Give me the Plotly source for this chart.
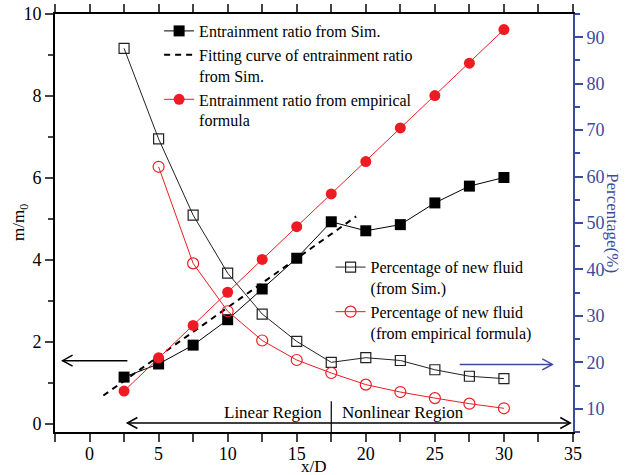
import plotly.graph_objects as go

# ---- data ----
x_vals = [2.5, 5, 7.5, 10, 12.5, 15, 17.5, 20, 22.5, 25, 27.5, 30]
ratio_sim = [1.14, 1.46, 1.92, 2.54, 3.29, 4.04, 4.93, 4.71, 4.86, 5.39, 5.80, 6.01]
ratio_emp = [0.80, 1.61, 2.40, 3.21, 4.01, 4.81, 5.61, 6.40, 7.22, 8.01, 8.80, 9.62]
fit_x = [1.0, 19.3]
fit_y = [0.69, 5.06]
pct_sim = [87.6, 68.1, 51.7, 39.2, 30.4, 24.5, 20.0, 21.0, 20.4, 18.4, 17.0, 16.5]
x_pct_emp = [5, 7.5, 10, 12.5, 15, 17.5, 20, 22.5, 25, 27.5, 30]
pct_emp = [62.1, 41.3, 31.0, 24.7, 20.5, 17.7, 15.2, 13.6, 12.3, 11.1, 10.1]

RED = "#ED1C24"
BLUE = "#3B4BA0"
FONT = "Liberation Serif, Times New Roman, DejaVu Serif, serif"

fig = go.Figure()
fig.add_trace(go.Scatter(x=x_vals, y=ratio_sim, mode="lines+markers",
                         name="Entrainment ratio from Sim.",
                         line=dict(color="black", width=1),
                         marker=dict(symbol="square", size=11, color="black")))
fig.add_trace(go.Scatter(x=fit_x, y=fit_y, mode="lines",
                         name="Fitting curve of entrainment ratio<br>from Sim.",
                         line=dict(color="black", width=2, dash="6px,5px")))
fig.add_trace(go.Scatter(x=x_vals, y=ratio_emp, mode="lines+markers",
                         name="Entrainment ratio from empirical<br>formula",
                         line=dict(color=RED, width=1),
                         marker=dict(symbol="circle", size=11, color=RED)))
fig.add_trace(go.Scatter(x=x_vals, y=pct_sim, mode="lines+markers", yaxis="y2",
                         name="Percentage of new fluid<br>(from Sim.)", legend="legend2",
                         line=dict(color="#222", width=1),
                         marker=dict(symbol="square-open", size=10, color="#222",
                                     line=dict(width=1.2))))
fig.add_trace(go.Scatter(x=x_pct_emp, y=pct_emp, mode="lines+markers", yaxis="y2",
                         name="Percentage of new fluid<br>(from empirical formula)", legend="legend2",
                         line=dict(color=RED, width=1),
                         marker=dict(symbol="circle-open", size=11, color=RED,
                                     line=dict(width=1.2))))

# ---- arrows (annotation decorations) ----
PX_X = 13.85  # px per x unit
PX_Y = 41.0   # px per left-y unit
shapes = []

def arrow_head(tx, ty, direction, color):
    dx = 10 / PX_X * (-direction)
    dy = 5.5 / PX_Y
    return dict(type="path", xref="x", yref="y",
                path=f"M {tx+dx},{ty+dy} L {tx},{ty} L {tx+dx},{ty-dy}",
                line=dict(color=color, width=1.5))

shapes.append(dict(type="line", xref="x", yref="y", x0=2.74, x1=-1.95, y0=1.54, y1=1.54,
                   line=dict(color="black", width=1.5)))
shapes.append(arrow_head(-1.95, 1.54, -1, "black"))
shapes.append(dict(type="line", xref="x", yref="y", x0=26.8, x1=33.5, y0=1.45, y1=1.45,
                   line=dict(color=BLUE, width=1.5)))
shapes.append(arrow_head(33.5, 1.45, 1, BLUE))
shapes.append(dict(type="line", xref="x", yref="y", x0=2.74, x1=34.8, y0=0.02, y1=0.02,
                   line=dict(color="black", width=1.5)))
shapes.append(arrow_head(2.74, 0.02, -1, "black"))
shapes.append(arrow_head(34.8, 0.02, 1, "black"))
shapes.append(dict(type="line", xref="x", yref="y", x0=17.5, x1=17.5, y0=-0.2, y1=0.55,
                   line=dict(color="black", width=1.2)))

annotations = [
    dict(x=17.0, y=0.28, xref="x", yref="y", text="Linear Region", showarrow=False,
         xanchor="right", font=dict(family=FONT, size=17, color="black")),
    dict(x=18.1, y=0.28, xref="x", yref="y", text="Nonlinear Region", showarrow=False,
         xanchor="left", font=dict(family=FONT, size=17, color="black")),
    dict(x=1.0, y=0.5, xref="paper", yref="paper", text="Percentage(%)", showarrow=False,
         xanchor="center", yanchor="middle", xshift=40,
         textangle=90, font=dict(family=FONT, size=17, color=BLUE)),
    dict(x=0.0, y=0.5, xref="paper", yref="paper", text="m/m<sub>0</sub>", showarrow=False,
         xanchor="center", yanchor="middle", xshift=-35,
         textangle=-90, font=dict(family=FONT, size=17, color="black")),
    dict(x=0.5, y=0.0, xref="paper", yref="paper", text="x/D", showarrow=False,
         xanchor="center", yanchor="middle", yshift=-34,
         font=dict(family=FONT, size=17, color="black")),
]

fig.update_layout(
    width=628, height=475,
    margin=dict(l=55, r=55, t=14, b=43),
    paper_bgcolor="white", plot_bgcolor="white",
    font=dict(family=FONT, size=18, color="black"),
    shapes=shapes, annotations=annotations,
    xaxis=dict(range=[-2.5, 35], dtick=5, tick0=0, ticks="outside", ticklen=8, tickwidth=1.5,
               showline=True, linewidth=2, linecolor="black", mirror="allticks",
               showgrid=False, zeroline=False, automargin=False, ticklabelstandoff=-4,
               minor=dict(dtick=2.5, tick0=0, ticks="outside", ticklen=5, tickwidth=1.5),
               tickfont=dict(family=FONT, size=18)),
    yaxis=dict(range=[-0.2, 10], dtick=2, tick0=0, ticks="outside", ticklen=8, tickwidth=1.5,
               showline=True, linewidth=2, linecolor="black",
               showgrid=False, zeroline=False, automargin=False,
               minor=dict(dtick=1, tick0=0, ticks="outside", ticklen=5, tickwidth=1.5),
               tickfont=dict(family=FONT, size=18)),
    yaxis2=dict(range=[5, 95], dtick=10, tick0=10, ticks="outside", ticklen=8, tickwidth=1.5,
                overlaying="y", side="right", anchor="x", automargin=False,
                showline=True, linewidth=2, linecolor=BLUE, tickcolor=BLUE,
                showgrid=False, zeroline=False,
                minor=dict(dtick=5, tick0=5, ticks="outside", ticklen=5, tickwidth=1.5,
                           tickcolor=BLUE),
                tickfont=dict(family=FONT, size=18, color=BLUE)),
    legend=dict(x=0.201, y=1.0, xanchor="left", yanchor="top", bgcolor="rgba(0,0,0,0)",
                font=dict(family=FONT, size=16), valign="top", tracegroupgap=0,
                borderwidth=0),
    legend2=dict(x=0.532, y=0.435, xanchor="left", yanchor="top", bgcolor="rgba(0,0,0,0)",
                 font=dict(family=FONT, size=16), valign="top", tracegroupgap=0,
                 borderwidth=0),
)

fig.write_html("out.html")
